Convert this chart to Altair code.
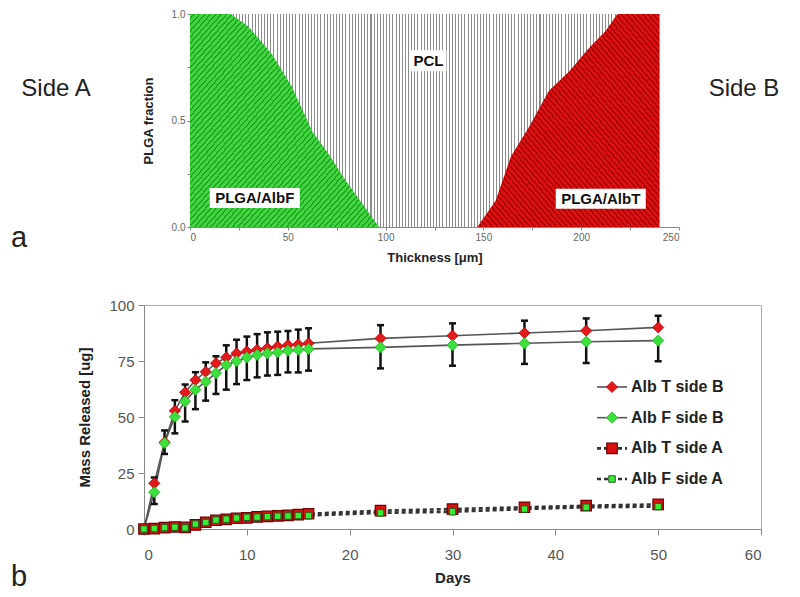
import altair as alt
import pandas as pd

FONT = "Liberation Sans"

# ---------------- panel a : PLGA fraction across the membrane thickness
albf_thickness = [0, 20.8, 30, 42, 52, 57, 62.5, 71, 79.5, 88, 96.6]
albf_fraction = [1.0, 1.0, 0.94, 0.81, 0.66, 0.56, 0.45, 0.34, 0.22, 0.11, 0.0]
albt_thickness = [146.9, 156.3, 164, 173.3, 183.5, 193.8, 204, 212.5, 218.5, 240]
albt_fraction = [0.0, 0.125, 0.33, 0.47, 0.64, 0.73, 0.84, 0.92, 1.0, 1.0]
membrane_thickness = [0, 240]
membrane_fraction = [0.0, 1.0]
region_labels = ["PCL", "PLGA/AlbF", "PLGA/AlbT"]
region_label_thickness = [121.9, 33.1, 210.0]
region_label_fraction = [0.78, 0.136, 0.133]
thickness_ticks = list(range(0, 251, 25))
fraction_ticks = [0.0, 0.25, 0.5, 0.75, 1.0]

# ---------------- panel b : cumulative release
days = [0, 1, 2, 3, 4, 5, 6, 7, 8, 9, 10, 11, 12, 13, 14, 15, 16, 23, 30, 37, 43, 50]
albT_sideB = [0, 20.4, 38.7, 52.8, 61.0, 66.5, 70.2, 74.0, 76.6, 78.4, 79.3, 80.0, 80.8,
              81.5, 82.1, 82.4, 82.9, 85.1, 86.3, 87.5, 88.5, 90.0]
albT_sideB_err = [0, 2.6, 5.3, 4.7, 3.5, 3.5, 4.2, 3.1, 5.4, 6.1, 6.6, 7.0, 7.0,
                  6.6, 6.3, 6.6, 6.7, 5.9, 5.5, 5.5, 5.5, 5.2]
albF_sideB = [0, 16.4, 38.4, 50.1, 57.0, 62.2, 65.8, 69.6, 73.2, 75.0, 76.6, 77.7, 78.4,
              78.9, 79.6, 80.0, 80.4, 81.1, 82.1, 82.9, 83.6, 84.1]
albF_sideB_err = [0, 5.2, 4.9, 7.4, 9.0, 8.7, 8.5, 9.3, 11.0, 10.3, 10.1, 10.0, 9.9,
                  10.1, 9.7, 10.1, 9.7, 9.4, 9.2, 9.2, 9.5, 9.2]
albT_sideA = [0, 0.2, 0.6, 0.9, 0.7, 1.8, 3.0, 3.9, 4.3, 4.8, 5.0, 5.4, 5.6,
              5.9, 6.1, 6.4, 6.8, 8.2, 8.9, 9.7, 10.4, 11.0]
albF_sideA = [0, 0.2, 0.6, 0.8, 0.5, 2.2, 2.9, 4.0, 4.4, 4.9, 5.2, 5.3, 5.5,
              5.7, 5.8, 6.0, 6.0, 7.2, 7.7, 8.9, 9.7, 10.0]
series_names = ["Alb T side B", "Alb F side B", "Alb T side A", "Alb F side A"]
days_ticks = list(range(0, 61, 10))
mass_ticks = [0, 25, 50, 75, 100]


# ---------------- styling helpers
def stripes(n, base, line, frac, x1, y1, x2, y2):
    stops = []
    for i in range(n):
        a = round(i / n, 5)
        m = round((i + 1 - frac) / n, 5)
        b = round((i + 1) / n, 5)
        stops += [
            {"offset": a, "color": base},
            {"offset": m, "color": base},
            {"offset": m, "color": line},
            {"offset": b, "color": line},
        ]
    return {"gradient": "linear", "x1": x1, "y1": y1, "x2": x2, "y2": y2, "stops": stops}


PCL_FILL = stripes(150, "#ffffff", "#8c8c8c", 0.33, 0, 0, 1, 0)
GREEN_FILL = stripes(70, "#3fd63f", "#22a322", 0.35, 0, 0, 1, 1)
RED_FILL = stripes(68, "#dc1010", "#a50000", 0.35, 0, 1, 1, 0)

# ---------------- panel a chart
x_top = alt.X(
    "t:Q",
    scale=alt.Scale(domain=[0, 250], range=[46, 535], nice=False, zero=False),
    axis=alt.Axis(values=thickness_ticks,
                  labelExpr="datum.value % 50 == 0 ? datum.label : ''",
                  tickSize=3, tickColor="#888", domainColor="#888",
                  labelFontSize=10, labelColor="#666", labelPadding=2,
                  titleFontSize=13, titleFontWeight="bold", titleColor="#222",
                  titlePadding=9, grid=False),
    title="Thickness [μm]",
)
y_top = alt.Y(
    "f:Q",
    scale=alt.Scale(domain=[0, 1], nice=False),
    axis=alt.Axis(values=fraction_ticks,
                  labelExpr="(datum.value * 2) % 1 == 0 ? format(datum.value, '.1f') : ''",
                  offset=-46, tickSize=3, tickColor="#888", domainColor="#888",
                  labelFontSize=10, labelColor="#666", labelPadding=2,
                  titleFontSize=13, titleFontWeight="bold", titleColor="#222",
                  titlePadding=16, grid=False),
    title="PLGA fraction",
)

df_pcl = pd.DataFrame({"t": [membrane_thickness[0]], "t2": [membrane_thickness[1]],
                       "f": [membrane_fraction[0]], "f2": [membrane_fraction[1]]})
df_albf = pd.DataFrame({"t": albf_thickness, "f": albf_fraction})
df_albt = pd.DataFrame({"t": albt_thickness, "f": albt_fraction})
df_lab = pd.DataFrame({"label": region_labels, "t": region_label_thickness,
                       "f": region_label_fraction})

pcl = alt.Chart(df_pcl).mark_rect(fill=PCL_FILL, opacity=1).encode(
    x=x_top, x2="t2:Q", y=y_top, y2="f2:Q")
green = alt.Chart(df_albf).mark_area(fill=GREEN_FILL, opacity=1).encode(x=x_top, y=y_top)
red = alt.Chart(df_albt).mark_area(fill=RED_FILL, opacity=1).encode(x=x_top, y=y_top)

box_size = {"PCL": (36, 21), "PLGA/AlbF": (90, 20), "PLGA/AlbT": (90, 20)}
box_layers = []
for name, (w, h) in box_size.items():
    r = h / w
    path = f"M-1,{-r:.4f}L1,{-r:.4f}L1,{r:.4f}L-1,{r:.4f}Z"
    box_layers.append(
        alt.Chart(df_lab).transform_filter(alt.datum.label == name)
        .mark_point(shape=path, size=w * w, filled=True, fill="white", opacity=1, strokeWidth=0)
        .encode(x=x_top, y=y_top)
    )
lab_text = alt.Chart(df_lab).mark_text(fontSize=15, fontWeight="bold", color="#111",
                                       align="center", baseline="middle").encode(
    x=x_top, y=y_top, text="label:N")

df_side = pd.DataFrame({"txt": ["Side A", "Side B"]})
side_a = alt.Chart(df_side).transform_filter(alt.datum.txt == "Side A").mark_text(
    fontSize=24, color="#222", align="center", baseline="middle").encode(
    x=alt.value(-88), y=alt.value(75), text="txt:N")
side_b = alt.Chart(df_side).transform_filter(alt.datum.txt == "Side B").mark_text(
    fontSize=24, color="#222", align="center", baseline="middle").encode(
    x=alt.value(600), y=alt.value(75), text="txt:N")
df_pa = pd.DataFrame({"txt": ["a"]})
panel_a = alt.Chart(df_pa).mark_text(fontSize=29, color="#222", align="left",
                                     baseline="middle").encode(
    x=alt.value(-133), y=alt.value(224), text="txt:N")

top = alt.layer(pcl, green, red, *box_layers, lab_text, side_a, side_b, panel_a).properties(
    width=617, height=213)

# ---------------- panel b chart
x_b = alt.X(
    "day:Q", scale=alt.Scale(domain=[0, 60], nice=False),
    axis=alt.Axis(values=days_ticks, tickSize=6, tickColor="#888", domainColor="#888",
                  labelFontSize=15, labelColor="#555", labelPadding=12,
                  titleFontSize=15, titleFontWeight="bold", titleColor="#222",
                  titlePadding=8, grid=False),
    title="Days",
)
y_b = alt.Y(
    "mass:Q", scale=alt.Scale(domain=[0, 100], nice=False),
    axis=alt.Axis(values=mass_ticks, tickSize=6, tickColor="#888", domainColor="#888",
                  labelFontSize=15, labelColor="#555", labelPadding=4,
                  titleFontSize=15, titleFontWeight="bold", titleColor="#222",
                  titlePadding=16, grid=False),
    title="Mass Released [ug]",
)

values = {
    "Alb T side B": albT_sideB,
    "Alb F side B": albF_sideB,
    "Alb T side A": albT_sideA,
    "Alb F side A": albF_sideA,
}
df_rel = pd.concat(
    [pd.DataFrame({"day": days, "mass": v, "series": k}) for k, v in values.items()],
    ignore_index=True)

df_err_t = pd.DataFrame({"day": days, "lo": albT_sideB,
                         "hi": [v + e for v, e in zip(albT_sideB, albT_sideB_err)],
                         "err": albT_sideB_err})
df_err_t["cap"] = df_err_t["hi"]
df_err_f = pd.DataFrame({"day": days,
                         "lo": [v - e for v, e in zip(albF_sideB, albF_sideB_err)],
                         "hi": albF_sideB, "err": albF_sideB_err})
df_err_f["cap"] = df_err_f["lo"]
df_err = pd.concat([df_err_t, df_err_f], ignore_index=True)
df_err = df_err[df_err["err"] > 0]

solid_lines = alt.Chart(df_rel).transform_filter(
    alt.FieldOneOfPredicate(field="series", oneOf=series_names[:2])
).mark_line(color="#555", strokeWidth=1.6).encode(x=x_b, y=y_b, detail="series:N")
dashed_lines = alt.Chart(df_rel).transform_filter(
    alt.FieldOneOfPredicate(field="series", oneOf=series_names[2:])
).mark_line(color="#333", strokeWidth=2.6, strokeDash=[4, 3]).encode(
    x=x_b, y=y_b, detail="series:N")

err_rule = alt.Chart(df_err).mark_rule(color="#111", strokeWidth=2.5).encode(
    x=x_b, y=alt.Y("lo:Q", scale=alt.Scale(domain=[0, 100], nice=False)), y2="hi:Q")
err_cap = alt.Chart(df_err).mark_tick(orient="horizontal", size=7, thickness=2.5,
                                      color="#111", opacity=1).encode(
    x=x_b, y=alt.Y("cap:Q", scale=alt.Scale(domain=[0, 100], nice=False)))

marker_style = {
    "Alb T side B": dict(shape="diamond", size=125, fill="#e3191c", stroke="#c00000", strokeWidth=0.8),
    "Alb F side B": dict(shape="diamond", size=125, fill="#3be03b", stroke="#22b022", strokeWidth=0.8),
    "Alb T side A": dict(shape="square", size=110, fill="#d81010", stroke="#700000", strokeWidth=1.2),
    "Alb F side A": dict(shape="square", size=42, fill="#38ec38", stroke="#1d5a1d", strokeWidth=1.0),
}
marker_layers = []
for name in series_names:
    st = marker_style[name]
    marker_layers.append(
        alt.Chart(df_rel).transform_filter(alt.datum.series == name)
        .mark_point(filled=True, opacity=1, **st)
        .encode(x=x_b, y=y_b)
    )

data_layers = alt.layer(solid_lines, dashed_lines, err_rule, err_cap, *marker_layers)

# manual legend inside the plot (Excel style: line + marker + label)
df_leg = pd.DataFrame({"series": series_names})
y_leg = alt.Y("series:N", scale=alt.Scale(type="point", domain=series_names,
                                          range=[82, 174], padding=0), axis=None)
leg_solid = alt.Chart(df_leg).transform_filter(
    alt.FieldOneOfPredicate(field="series", oneOf=series_names[:2])
).mark_rule(color="#555", strokeWidth=1.6).encode(
    x=alt.value(453), x2=alt.value(483), y=y_leg)
leg_dashed = alt.Chart(df_leg).transform_filter(
    alt.FieldOneOfPredicate(field="series", oneOf=series_names[2:])
).mark_rule(color="#333", strokeWidth=2.6, strokeDash=[4, 3]).encode(
    x=alt.value(453), x2=alt.value(483), y=y_leg)
leg_markers = []
for name in series_names:
    st = marker_style[name]
    leg_markers.append(
        alt.Chart(df_leg).transform_filter(alt.datum.series == name)
        .mark_point(filled=True, opacity=1, **st)
        .encode(x=alt.value(468), y=y_leg)
    )
leg_text = alt.Chart(df_leg).mark_text(fontSize=16, fontWeight="bold", color="#222",
                                       align="left", baseline="middle").encode(
    x=alt.value(487), y=y_leg, text="series:N")
legend_layers = alt.layer(leg_solid, leg_dashed, *leg_markers, leg_text)

df_pb = pd.DataFrame({"txt": ["b"]})
panel_b = alt.Chart(df_pb).mark_text(fontSize=29, color="#222", align="left",
                                     baseline="middle").encode(
    x=alt.value(-133), y=alt.value(272), text="txt:N")

bottom = alt.layer(data_layers, legend_layers, panel_b).resolve_scale(
    y="independent").properties(
    width=617, height=224,
    view=alt.ViewBackground(stroke="#aaa", strokeWidth=1))

chart = alt.vconcat(top, bottom, spacing=32).properties(
    padding={"left": 2, "top": 0, "right": 0, "bottom": 0}
).configure(font=FONT).configure_view(stroke="transparent")

chart.save("out.html", embed_options={"renderer": "svg", "actions": False})
